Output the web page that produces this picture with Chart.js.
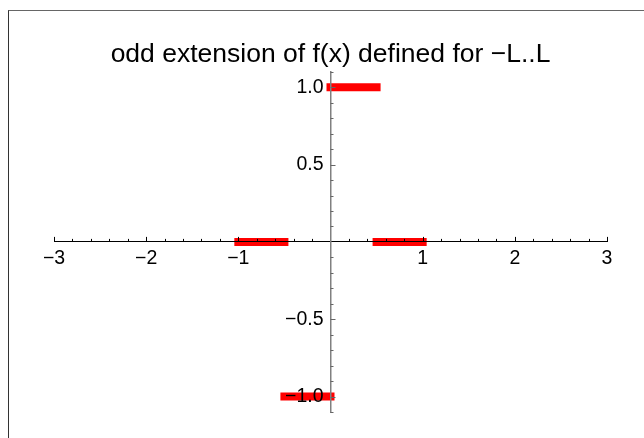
<!DOCTYPE html>
<html>
<head>
<meta charset="utf-8">
<script src="https://cdn.jsdelivr.net/npm/chart.js@4.4.1/dist/chart.umd.min.js"></script>
<style>
  body { margin: 0; background: #fff; }
  #wrap { position: relative; width: 644px; height: 438px; }
  #frame { position: absolute; left: 8px; top: 10px; right: 0; bottom: 0;
           border-left: 1.5px solid #333; border-top: 1.5px solid #666; }
</style>
</head>
<body>
<div id="wrap">
  <canvas id="myChart" width="644" height="438"></canvas>
  <div id="frame"></div>
</div>
<script>
// piecewise segments of the odd extension
const segStart = [-1, -0.5, 0, 0.5];
const segEnd = [-0.5, 0, 0.5, 1];
const segValue = [0, -1, 1, 0];

// labelled ticks
const xTickLabels = [-3, -2, -1, 1, 2, 3];
const yTickLabels = [-1, -0.5, 0.5, 1];

const fmt = (v, d) => (v < 0 ? '\u2212' : '') + Math.abs(v).toFixed(d);

const datasets = segStart.map((s, i) => ({
  data: [{x: s, y: segValue[i]}, {x: segEnd[i], y: segValue[i]}],
  showLine: true,
  borderColor: '#ff0000',
  borderWidth: 8,
  borderCapStyle: 'square',
  pointRadius: 0
}));

// Mathematica style tick marks (major + minor), drawn on the axes
const tickMarks = {
  id: 'tickMarks',
  afterDraw(chart) {
    const {ctx, scales: {x, y}} = chart;
    const x0 = x.getPixelForValue(0);
    const y0 = y.getPixelForValue(0);
    ctx.save();
    ctx.lineWidth = 1;
    ctx.strokeStyle = '#000';
    ctx.beginPath();
    for (let i = -15; i <= 15; i++) {
      if (i === 0) continue;
      const px = Math.round(x.getPixelForValue(i * 0.2)) + 0.5;
      const len = i % 5 === 0 ? 5 : 3;
      ctx.moveTo(px, y0);
      ctx.lineTo(px, y0 - len);
    }
    ctx.stroke();
    ctx.strokeStyle = '#666';
    ctx.beginPath();
    for (let i = -11; i <= 11; i++) {
      if (i === 0) continue;
      const py = Math.round(y.getPixelForValue(i * 0.1)) + 0.5;
      const len = i % 5 === 0 ? 5 : 3;
      ctx.moveTo(x0, py);
      ctx.lineTo(x0 + len, py);
    }
    ctx.stroke();
    ctx.restore();
  }
};

const config = {
  type: 'scatter',
  data: { datasets: datasets },
  options: {
    responsive: false,
    animation: false,
    devicePixelRatio: 1,
    layout: {
      padding: { top: 0, left: 54, right: 37, bottom: 26 }
    },
    plugins: {
      legend: { display: false },
      tooltip: { enabled: false },
      title: {
        display: true,
        text: 'odd extension of f(x) defined for \u2212L..L',
        color: '#000',
        font: { family: 'Liberation Sans', size: 26.5, weight: 'normal', lineHeight: 1.2 },
        padding: { top: 39, bottom: 1 }
      }
    },
    scales: {
      x: {
        type: 'linear',
        min: -3,
        max: 3,
        position: { y: 0 },
        afterFit: (s) => { s.height = 0; },
        afterBuildTicks: (s) => { s.ticks = xTickLabels.map(v => ({value: v})); },
        grid: { display: false, drawTicks: false },
        border: { display: true, color: '#000', width: 1, z: 1 },
        ticks: {
          z: 1,
          color: '#000',
          padding: 5,
          maxRotation: 0,
          autoSkip: false,
          font: { family: 'Liberation Sans', size: 19.5 },
          callback: (v) => fmt(v, 0)
        }
      },
      y: {
        type: 'linear',
        min: -1.1,
        max: 1.1,
        position: 'center',
        afterFit: (s) => { s.width = 0; },
        afterBuildTicks: (s) => { s.ticks = yTickLabels.map(v => ({value: v})); },
        grid: { display: false, drawTicks: false },
        border: { display: true, color: '#808080', width: 1.5, z: 1 },
        ticks: {
          z: 1,
          color: '#000',
          padding: 7,
          font: { family: 'Liberation Sans', size: 19.5 },
          callback: (v) => fmt(v, 1)
        }
      }
    }
  },
  plugins: [tickMarks]
};

const myChart = new Chart(document.getElementById('myChart'), config);
</script>
</body>
</html>
